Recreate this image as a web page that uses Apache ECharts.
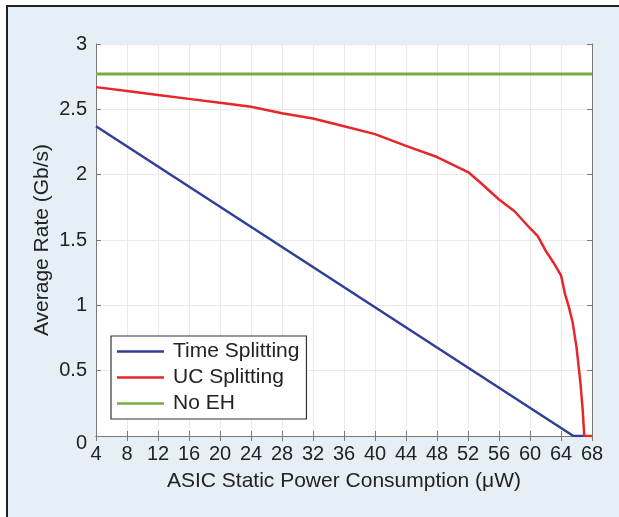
<!DOCTYPE html>
<html><head><meta charset="utf-8">
<script src="https://cdn.jsdelivr.net/npm/echarts@6/dist/echarts.min.js"></script>
<style>
html,body{margin:0;padding:0;background:#fff;overflow:hidden;}
#frame{position:absolute;left:6px;top:5px;width:613px;height:512px;background:#e7eff6;border-left:2px solid #222;border-top:2px solid #222;}
#chart{position:absolute;left:0;top:0;width:619px;height:517px;}
</style></head><body><div id="frame"></div><div id="chart"></div>
<script>
// ---- data ----
const xTicks = [4, 8, 12, 16, 20, 24, 28, 32, 36, 40, 44, 48, 52, 56, 60, 64, 68];
const yTicks = [0, 0.5, 1, 1.5, 2, 2.5, 3];
const timeX = [4, 65.6, 67];
const timeY = [2.37, 0, 0];
const ucX = [4, 8, 12, 16, 20, 24, 28, 32, 36, 40, 44, 48, 52, 53.4, 56, 58, 60, 61, 62, 63, 64, 64.5, 65, 65.5, 66, 66.5, 66.8, 67, 68];
const ucY = [2.67, 2.64, 2.61, 2.58, 2.55, 2.52, 2.47, 2.43, 2.37, 2.31, 2.22, 2.135, 2.02, 1.95, 1.81, 1.72, 1.59, 1.53, 1.42, 1.33, 1.23, 1.09, 0.99, 0.87, 0.68, 0.41, 0.2, 0, 0];
const noehX = [4, 68];
const noehY = [2.77, 2.77];
const seriesNames = ['Time Splitting', 'UC Splitting', 'No EH'];
const colors = ['#2f3e96', '#e5262b', '#74ad41'];

const zip = (xs, ys) => xs.map((x, i) => [x, ys[i]]);
const FONT = '"Liberation Sans", Arial, Helvetica, sans-serif';
const chart = echarts.init(document.getElementById('chart'), null, {renderer: 'canvas'});

const axisCommon = {
  axisLine: {show: true, lineStyle: {color: '#7a7a7a', width: 1}},
  axisTick: {show: true, inside: true, length: 5, lineStyle: {color: '#7a7a7a'}},
};

const option = {
  backgroundColor: 'transparent',
  animation: false,
  textStyle: {fontFamily: FONT},
  grid: {left: 96, top: 44, width: 496, height: 392, show: true, backgroundColor: '#fff', borderWidth: 0},
  legend: {
    data: seriesNames,
    orient: 'vertical',
    left: 111, top: 336,
    backgroundColor: '#fff',
    borderColor: '#333', borderWidth: 1.2,
    padding: [5, 7, 5, 6],
    icon: 'rect',
    itemWidth: 47, itemHeight: 2.5, itemGap: 5,
    textStyle: {fontFamily: FONT, fontSize: 21, lineHeight: 21, color: '#222', padding: [0, 0, 0, 4]},
  },
  xAxis: [{
    type: 'value', min: xTicks[0], max: xTicks[xTicks.length - 1], interval: 4,
    position: 'bottom',
    ...axisCommon,
    axisLabel: {fontFamily: FONT, fontSize: 20, color: '#222', margin: 8},
    splitLine: {show: true, lineStyle: {color: '#e9e9e9', width: 1}},
    name: 'ASIC Static Power Consumption (μW)',
    nameLocation: 'middle', nameGap: 35, nameMoveOverlap: false,
    nameTextStyle: {fontFamily: FONT, fontSize: 21, color: '#222'},
  }, {
    type: 'value', min: xTicks[0], max: xTicks[xTicks.length - 1], interval: 4,
    position: 'top',
    ...axisCommon,
    axisLabel: {show: false},
    splitLine: {show: false},
  }],
  yAxis: [{
    type: 'value', min: yTicks[0], max: yTicks[yTicks.length - 1], interval: 0.5,
    position: 'left',
    ...axisCommon,
    axisLabel: {
      fontFamily: FONT, fontSize: 20, color: '#222', margin: 9,
      formatter: v => v === 0 ? '{z|0}' : String(v),
      rich: {z: {fontFamily: FONT, fontSize: 20, color: '#222', padding: [14, 0, 0, 0]}}
    },
    splitLine: {show: true, lineStyle: {color: '#e9e9e9', width: 1}},
    name: 'Average Rate (Gb/s)',
    nameLocation: 'middle', nameGap: 43, nameMoveOverlap: false,
    nameTextStyle: {fontFamily: FONT, fontSize: 21, color: '#222'},
  }, {
    type: 'value', min: yTicks[0], max: yTicks[yTicks.length - 1], interval: 0.5,
    position: 'right',
    ...axisCommon,
    axisLabel: {show: false},
    splitLine: {show: false},
  }],
  series: [
    {name: seriesNames[0], type: 'line', data: zip(timeX, timeY), showSymbol: false, symbol: 'none',
     lineStyle: {color: colors[0], width: 2.5}, itemStyle: {color: colors[0]}, z: 3},
    {name: seriesNames[1], type: 'line', data: zip(ucX, ucY), showSymbol: false, symbol: 'none',
     lineStyle: {color: colors[1], width: 2.5}, itemStyle: {color: colors[1]}, z: 4},
    {name: seriesNames[2], type: 'line', data: zip(noehX, noehY), showSymbol: false, symbol: 'none',
     lineStyle: {color: colors[2], width: 3}, itemStyle: {color: colors[2]}, z: 2},
  ]
};
chart.setOption(option);
</script></body></html>
